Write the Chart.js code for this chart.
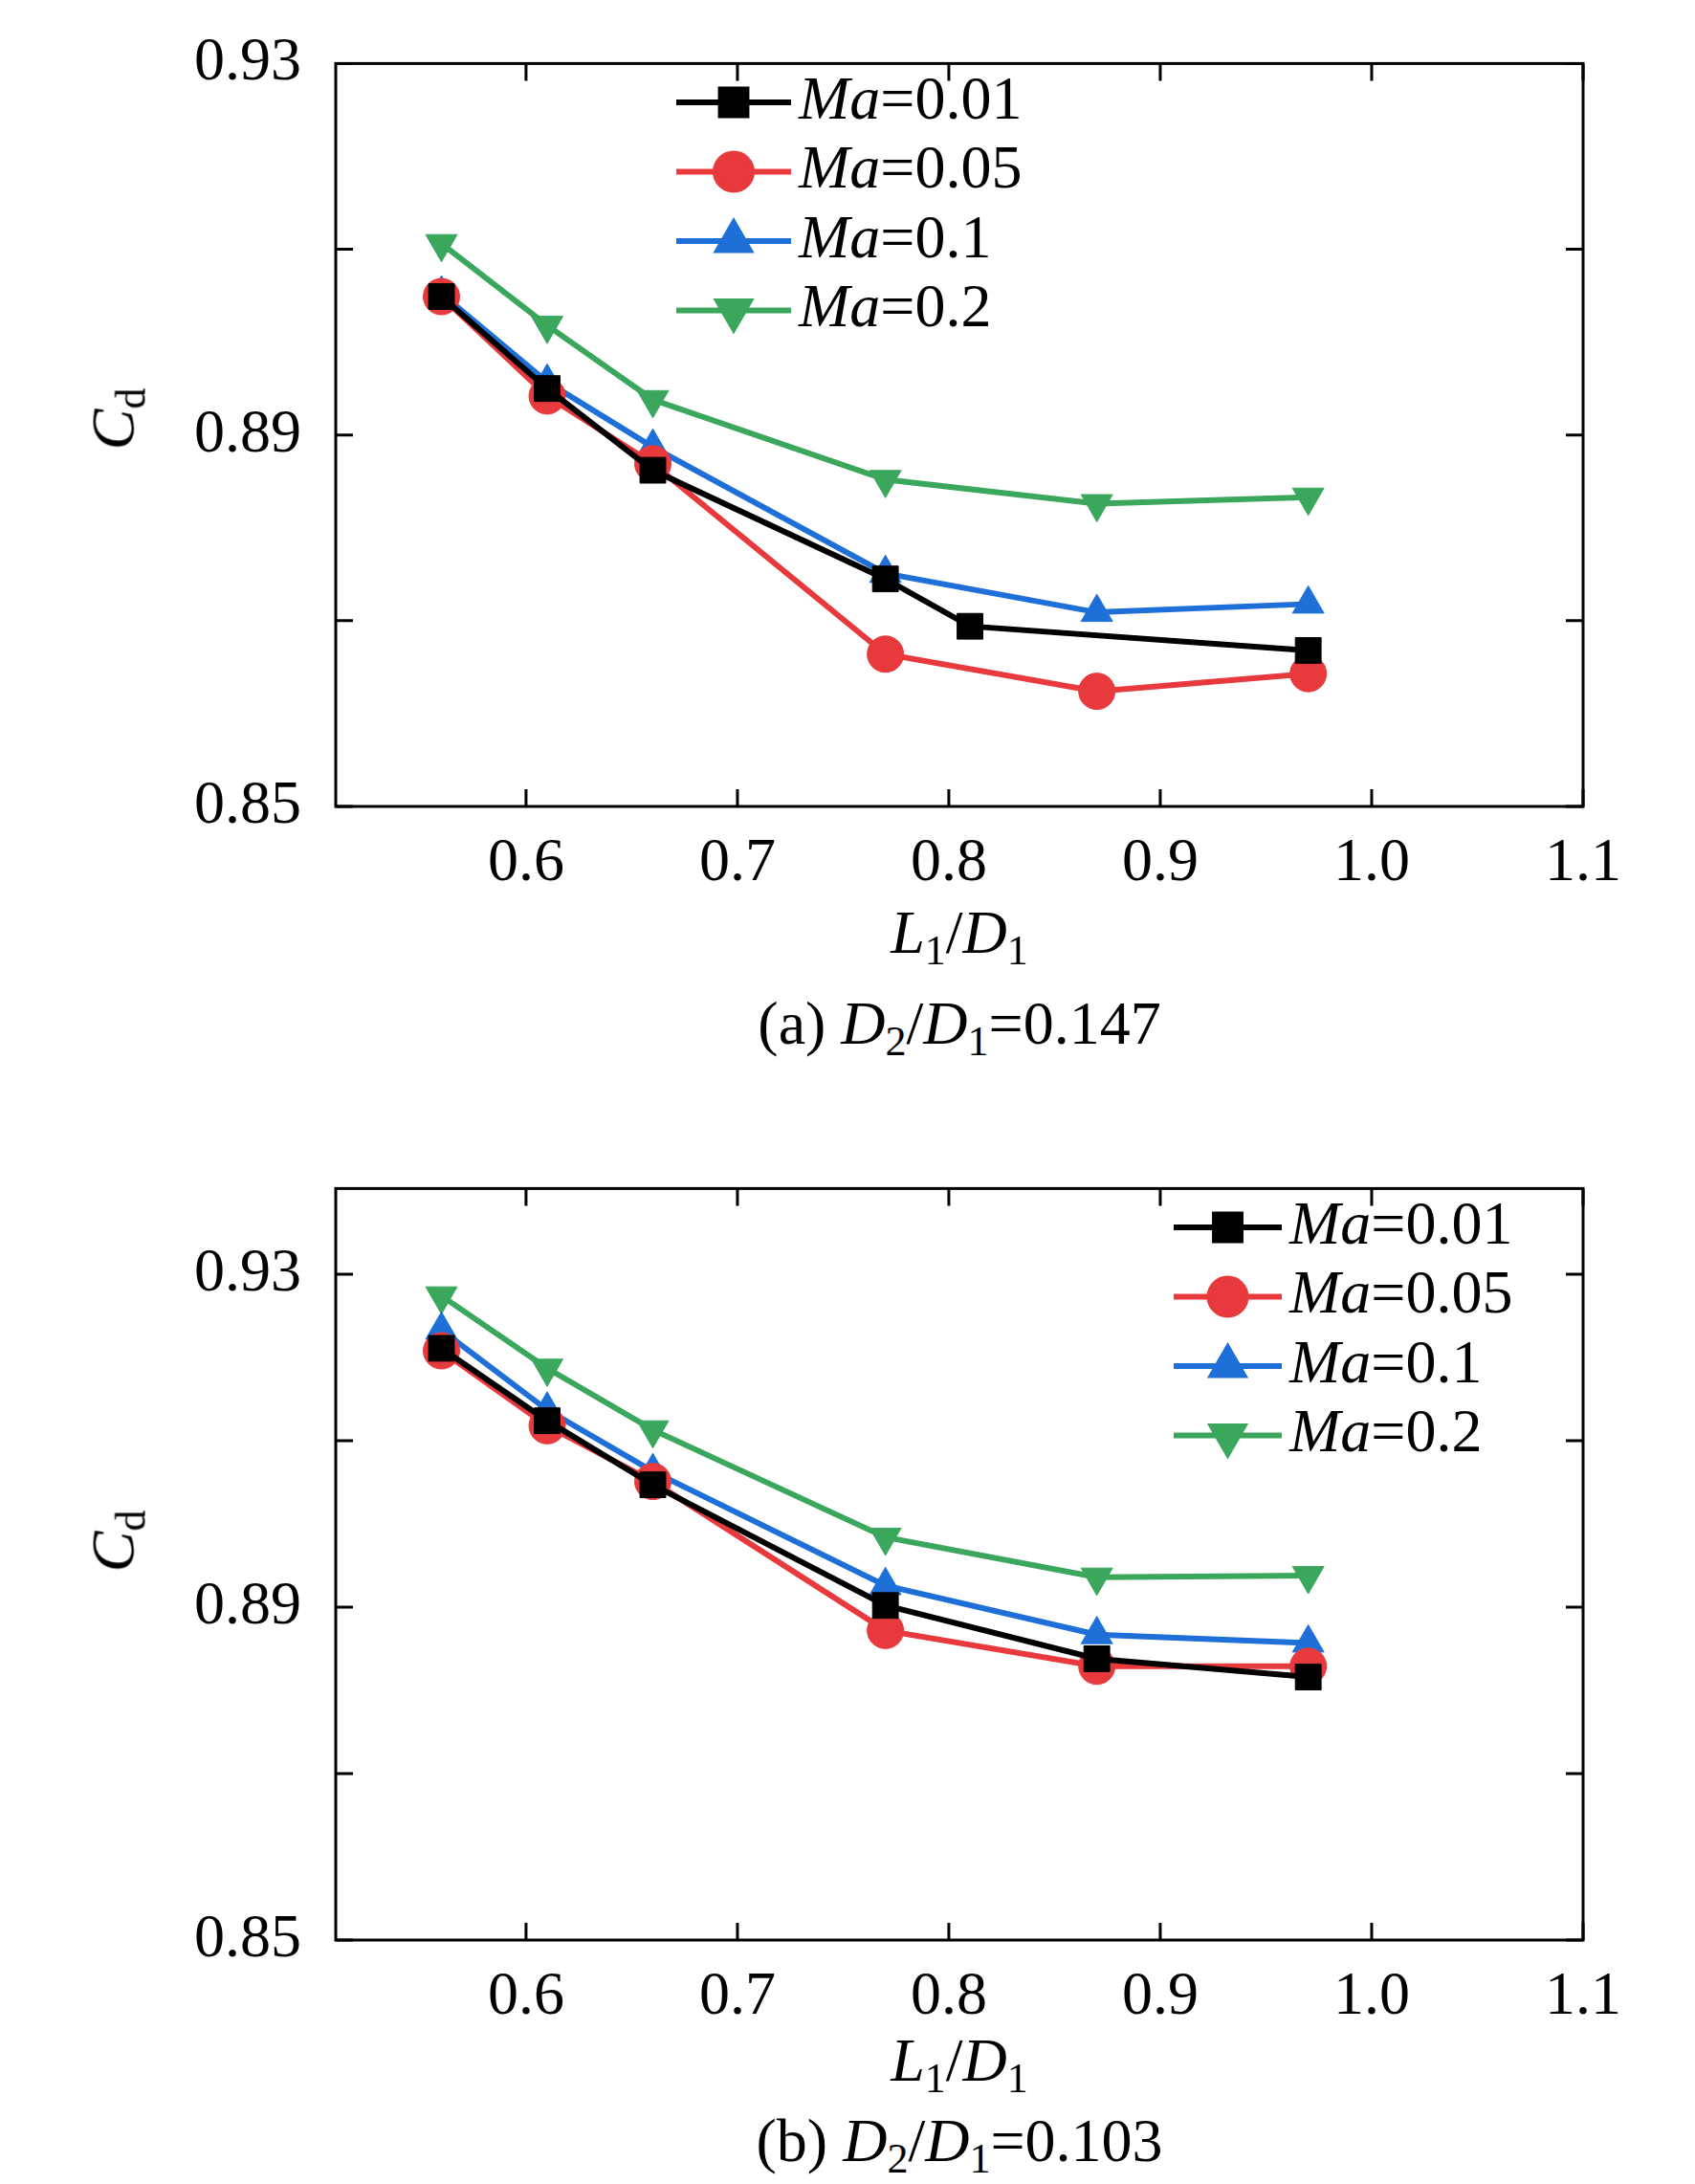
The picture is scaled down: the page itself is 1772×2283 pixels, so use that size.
<!DOCTYPE html>
<html><head><meta charset="utf-8">
<script src="https://cdn.jsdelivr.net/npm/chart.js@4/dist/chart.umd.min.js"></script>
<style>
body{margin:0;background:#fff;width:1772px;height:2283px;position:relative;overflow:hidden;font-family:"Liberation Serif","Times New Roman",serif;}
canvas{position:absolute;left:0}
.t{position:absolute;font-size:64px;white-space:nowrap;transform:translate(-50%,-50%);}
.t sub{font-size:44px;vertical-align:-12px}
.rot{transform:translate(-50%,-50%) rotate(-90deg)}
</style></head><body>
<div style="position:absolute;left:0;top:0;width:1772px;height:1000px"><canvas id="c1"></canvas></div>
<div style="position:absolute;left:0;top:1176px;width:1772px;height:1000px"><canvas id="c2"></canvas></div>
<div class="t rot" style="left:122px;top:438px"><i>C</i><sub>d</sub></div>
<div class="t" style="left:1003px;top:978px"><i>L</i><sub>1</sub>/<i>D</i><sub>1</sub></div>
<div class="t" style="left:1003px;top:1073px">(a) <i>D</i><sub>2</sub>/<i>D</i><sub>1</sub>=0.147</div>
<div class="t rot" style="left:122px;top:1611px"><i>C</i><sub>d</sub></div>
<div class="t" style="left:1003px;top:2157px"><i>L</i><sub>1</sub>/<i>D</i><sub>1</sub></div>
<div class="t" style="left:1003px;top:2241px">(b) <i>D</i><sub>2</sub>/<i>D</i><sub>1</sub>=0.103</div>
<script>
// series labels and styles
var maLabels = ['0.01', '0.05', '0.1', '0.2'];
var colors = ['#000000', '#e8393c', '#1f6fd8', '#3aa75c'];
var styles = ['rect', 'circle', 'triangle', 'triangle'];
var rotations = [0, 0, 0, 180];

// (a) D2/D1=0.147
var xA_01 = [0.56, 0.61, 0.66, 0.77, 0.81, 0.97];
var yA_01 = [0.9049, 0.8950, 0.8862, 0.8745, 0.8694, 0.8668];
var xA = [0.56, 0.61, 0.66, 0.77, 0.87, 0.97];
var yA_05 = [0.9049, 0.8942, 0.8869, 0.8664, 0.8624, 0.8643];
var yA_1 = [0.9052, 0.8957, 0.8887, 0.8751, 0.8709, 0.8718];
var yA_2 = [0.9106, 0.9018, 0.8938, 0.8852, 0.8826, 0.8833];

// (b) D2/D1=0.103
var xB = [0.56, 0.61, 0.66, 0.77, 0.87, 0.97];
var yB_01 = [0.9211, 0.9124, 0.9047, 0.8902, 0.8838, 0.8816];
var yB_05 = [0.9208, 0.9118, 0.9051, 0.8872, 0.8829, 0.8829];
var yB_1 = [0.9233, 0.9137, 0.9063, 0.8926, 0.8867, 0.8857];
var yB_2 = [0.9274, 0.9187, 0.9113, 0.8984, 0.8936, 0.8938];

var yLabels = [0.85, 0.89, 0.93];

function pts(xs, ys) { return xs.map((x, i) => ({x: x, y: ys[i]})); }

// frame with inward ticks on all sides
var framePlugin = {
  id: 'frame',
  afterDraw(chart) {
    const c = chart.ctx, a = chart.chartArea, xs = chart.scales.x, ys = chart.scales.y;
    c.save();
    c.strokeStyle = '#000'; c.lineWidth = 3;
    c.strokeRect(a.left, a.top, a.right - a.left, a.bottom - a.top);
    c.beginPath();
    xs.ticks.forEach(t => {
      const p = xs.getPixelForValue(t.value);
      c.moveTo(p, a.bottom); c.lineTo(p, a.bottom - 18);
      c.moveTo(p, a.top); c.lineTo(p, a.top + 18);
    });
    ys.ticks.forEach(t => {
      const p = ys.getPixelForValue(t.value);
      c.moveTo(a.left, p); c.lineTo(a.left + 18, p);
      c.moveTo(a.right, p); c.lineTo(a.right - 18, p);
    });
    c.stroke();
    c.restore();
  }
};

// legend with italic "Ma"
var legendPlugin = {
  id: 'maLegend',
  afterDraw(chart, args, opts) {
    const c = chart.ctx;
    chart.data.datasets.forEach((ds, i) => {
      const y = opts.y + i * 72.5;
      c.save();
      c.strokeStyle = ds.borderColor; c.lineWidth = 6;
      c.beginPath(); c.moveTo(opts.x0, y); c.lineTo(opts.x1, y); c.stroke();
      c.fillStyle = ds.borderColor;
      Chart.helpers.drawPoint(c, {pointStyle: ds.pointStyle, radius: 19, borderWidth: 1, rotation: ds.pointRotation}, (opts.x0 + opts.x1) / 2, y);
      c.fillStyle = '#000'; c.textBaseline = 'middle';
      c.font = 'italic 64px "Liberation Serif"';
      c.fillText('Ma', opts.x1 + 8, y);
      const w = c.measureText('Ma').width;
      c.font = '64px "Liberation Serif"';
      c.fillText('=' + maLabels[i], opts.x1 + 8 + w, y);
      c.restore();
    });
  }
};

function makeChart(id, sets, yMax, xHeight, padTop, legendPos) {
  return new Chart(document.getElementById(id), {
    type: 'line',
    data: {
      datasets: sets.map((d, i) => ({
        data: d, borderColor: colors[i], backgroundColor: colors[i],
        pointStyle: styles[i], pointRotation: rotations[i],
        pointRadius: 19, borderWidth: 6, pointBorderWidth: 1
      }))
    },
    options: {
      responsive: true, maintainAspectRatio: false, animation: false,
      layout: {padding: {top: padTop, right: 117, left: 0, bottom: 0}},
      scales: {
        x: {
          type: 'linear', min: 0.51, max: 1.1,
          grid: {display: false}, border: {display: false},
          afterBuildTicks: s => { s.ticks = [0.6, 0.7, 0.8, 0.9, 1.0, 1.1].map(v => ({value: v})); },
          afterFit: s => { s.height = xHeight; },
          ticks: {font: {family: 'Liberation Serif', size: 64}, color: '#000', padding: 14, maxRotation: 0,
            callback: v => v.toFixed(1)}
        },
        y: {
          min: 0.85, max: yMax,
          grid: {display: false}, border: {display: false},
          afterBuildTicks: s => { s.ticks = [0.85, 0.87, 0.89, 0.91, 0.93].map(v => ({value: v})); },
          afterFit: s => { s.width = 351; },
          ticks: {font: {family: 'Liberation Serif', size: 64}, color: '#000', padding: 28,
            callback: v => yLabels.some(l => Math.abs(l - v) < 1e-6) ? v.toFixed(2) : ''}
        }
      },
      plugins: {legend: {display: false}, tooltip: {enabled: false}, maLegend: legendPos}
    },
    plugins: [framePlugin, legendPlugin]
  });
}

makeChart('c1', [pts(xA_01, yA_01), pts(xA, yA_05), pts(xA, yA_1), pts(xA, yA_2)], 0.93, 157, 8,
  {x0: 707, x1: 827, y: 107});
makeChart('c2', [pts(xB, yB_01), pts(xB, yB_05), pts(xB, yB_1), pts(xB, yB_2)], 0.9403, 148, 0,
  {x0: 1227, x1: 1340, y: 107});
</script>
</body></html>
